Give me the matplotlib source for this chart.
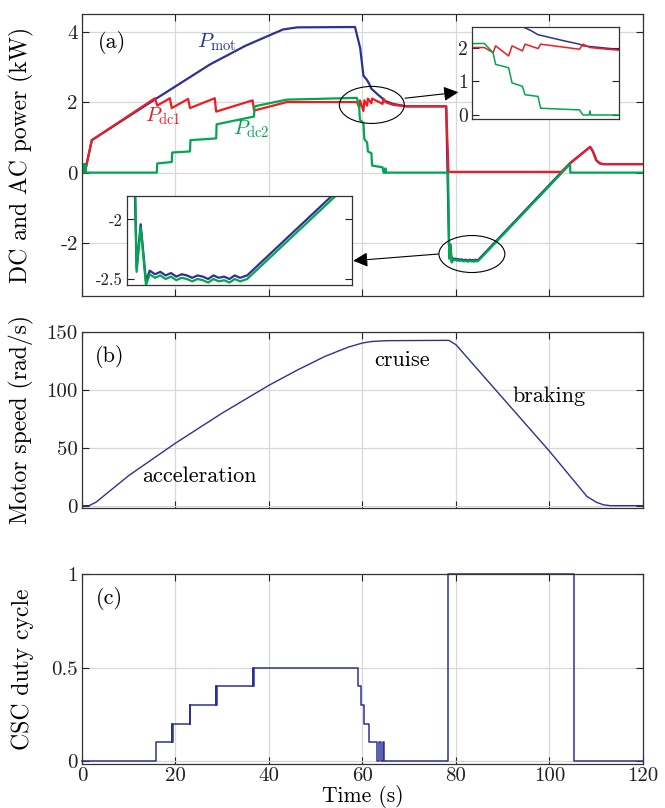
import matplotlib
matplotlib.use("Agg")
import matplotlib.pyplot as plt
from matplotlib.patches import Ellipse

plt.rcParams['font.family'] = 'serif'
plt.rcParams['font.serif'] = ['cmr10']
plt.rcParams['mathtext.fontset'] = 'cm'
plt.rcParams['axes.unicode_minus'] = False
plt.rcParams['axes.formatter.use_mathtext'] = False

BLUE = '#2e3192'
RED = '#ed1c24'
GREEN = '#00a651'

# ---- panel (a): powers in kW vs time in s ----
t_brk = [79.3, 79.6, 79.9, 80.2, 80.5, 80.8, 81.1, 81.4, 81.7, 82.0, 82.3, 82.6,
         82.9, 83.2, 83.5, 83.8, 84.1, 84.4, 84.8]
dc2_brk = [-2.46, -2.49, -2.47, -2.50, -2.48, -2.51, -2.49, -2.50, -2.52, -2.50,
           -2.51, -2.53, -2.50, -2.52, -2.51, -2.53, -2.50, -2.52, -2.50]
mot_brk = [-2.43, -2.46, -2.44, -2.47, -2.45, -2.48, -2.46, -2.47, -2.49, -2.47,
           -2.48, -2.50, -2.47, -2.49, -2.48, -2.50, -2.47, -2.49, -2.47]

t_mot = [0, 0.6, 2.1, 16.0, 27.4, 35.0, 40.2, 43.0, 46.0, 58.4, 59.5, 60.2, 61.0,
         61.5, 61.9, 63.4, 64.3, 64.5, 66.5, 69.4, 77.9, 78.56, 78.79, 79.09]
p_mot = [0, 0, 0.92, 2.11, 3.07, 3.60, 3.90, 4.06, 4.12, 4.13, 3.54, 2.75, 2.62,
         2.50, 2.38, 2.20, 2.10, 2.05, 1.95, 1.88, 1.88, -2.41, -2.04, -2.52]
t_mot_end = [104.4, 108.7, 109.3, 110.0, 110.8, 111.5, 120]
p_mot_end = [0.27, 0.73, 0.60, 0.35, 0.26, 0.24, 0.24]

t_dc1 = [0, 0.6, 2.1, 15.6, 16.1, 18.8, 19.2, 22.7, 23.1, 28.4, 28.7, 36.5, 36.8,
         43.8, 58.8, 59.3, 59.45, 60.2, 60.4, 61.0, 61.15, 61.9, 62.05, 64.3, 64.5,
         64.9, 65.9, 66.6, 69.4, 77.9, 78.4, 102.6, 104.4, 108.7, 109.3, 110.0,
         110.8, 111.5, 120]
p_dc1 = [0, 0, 0.92, 2.11, 1.90, 2.11, 1.83, 2.09, 1.83, 2.11, 1.73, 2.05, 1.76,
         2.00, 2.00, 1.85, 2.05, 1.75, 2.05, 1.90, 2.10, 1.97, 2.10, 1.95, 2.10,
         2.00, 1.95, 1.92, 1.88, 1.88, 0.02, 0.02, 0.26, 0.73, 0.60, 0.35, 0.26,
         0.24, 0.24]

t_dc2 = [0, 0.3, 0.35, 0.8, 0.85, 16.0, 16.1, 19.2, 19.3, 23.1, 23.2, 28.7, 28.8,
         36.8, 36.9, 43.8, 58.8, 59.3, 59.45, 60.2, 60.4, 61.0, 61.15, 61.9, 62.05,
         64.3, 64.5, 64.85, 64.9, 64.95, 78.3, 78.56, 78.79, 79.09]
p_dc2 = [0, 0, 0.24, 0.24, 0, 0, 0.26, 0.30, 0.57, 0.60, 0.92, 0.97, 1.37,
         1.59, 1.88, 2.07, 2.12, 1.85, 1.50, 1.40, 0.95, 0.85, 0.60, 0.55, 0.20,
         0.15, 0.0, 0.0, 0.12, 0.0, 0.0, -2.44, -2.07, -2.55]
t_dc2_end = [104.4, 104.45, 120]
p_dc2_end = [0.24, 0.0, 0.0]

# ---- panel (b): motor speed in rad/s ----
t_spd = [0, 1.5, 3, 10, 20, 30, 40, 46, 52, 57, 60, 62, 65, 78.5, 80, 90, 100,
         108, 110, 111.5, 113, 120]
w_spd = [0, 0, 3, 26, 54, 80, 104, 117, 129, 137, 140.5, 141.8, 142.5, 142.8,
         139, 93, 47, 8, 3, 0.8, 0, 0]

# ---- panel (c): CSC duty cycle (with switching chatter at the steps) ----
t_duty = [0, 15.9, 19.2, 19.3, 19.4, 19.5, 23.0, 23.1, 23.2, 23.3, 28.6, 28.7,
          28.8, 28.9, 36.5, 36.6, 36.7, 36.8, 59.1, 59.6, 60.4, 61.4, 63.2, 63.6,
          64.0, 64.4, 64.7, 78.2, 105.3, 120]
d_duty = [0, 0.1, 0.2, 0.1, 0.2, 0.2, 0.3, 0.2, 0.3, 0.3, 0.4, 0.3, 0.4, 0.4,
          0.5, 0.4, 0.5, 0.5, 0.4, 0.3, 0.2, 0.1, 0, 0.1, 0, 0.1, 0, 1, 0, 0]

mot_t = t_mot + t_brk + t_mot_end
mot_p = p_mot + mot_brk + p_mot_end
dc2_t = t_dc2 + t_brk + t_dc2_end
dc2_p = p_dc2 + dc2_brk + p_dc2_end


def style(ax, labelsize=15):
    ax.tick_params(direction='in', top=True, right=True, length=5, width=0.8,
                   labelsize=labelsize, colors='#222222', pad=3)
    for s in ax.spines.values():
        s.set_color('#333333')
        s.set_linewidth(0.9)


fig = plt.figure(figsize=(6.65, 8.08), dpi=100)

ax1 = fig.add_axes([0.1233, 0.6337, 0.8436, 0.349])
ax2 = fig.add_axes([0.1233, 0.3713, 0.8436, 0.2178])
ax3 = fig.add_axes([0.1233, 0.0545, 0.8436, 0.2351])

for ax in (ax1, ax2, ax3):
    ax.set_xlim(0, 120)
    ax.set_xticks([0, 20, 40, 60, 80, 100, 120])
    ax.grid(True, color='#d8d8d8', lw=0.9)
    ax.set_axisbelow(True)
    style(ax)

# (a)
ax1.plot(mot_t, mot_p, color=BLUE, lw=1.6)
ax1.plot(t_dc1, p_dc1, color=RED, lw=1.6)
ax1.plot(dc2_t, dc2_p, color=GREEN, lw=1.6)
ax1.set_ylim(-3.5, 4.5)
ax1.set_yticks([-2, 0, 2, 4])
ax1.tick_params(labelbottom=False)
ax1.set_ylabel('DC and AC power (kW)', fontsize=17)
ax1.text(6.4, 3.69, '(a)', fontsize=16, ha='center', va='center')
ax1.text(28.9, 3.69, r'$P_\mathrm{mot}$', color=BLUE, fontsize=15, ha='center', va='center')
ax1.text(17.4, 1.6, r'$P_\mathrm{dc1}$', color=RED, fontsize=15, ha='center', va='center')
ax1.text(36.2, 1.23, r'$P_\mathrm{dc2}$', color=GREEN, fontsize=15, ha='center', va='center')

ax1.add_patch(Ellipse((62.0, 1.92), 13.9, 1.05, fill=False, lw=0.8, color='black', zorder=5))
ax1.add_patch(Ellipse((83.4, -2.31), 14.1, 1.05, fill=False, lw=0.8, color='black', zorder=5))
arrow = dict(arrowstyle='-|>', color='black', lw=0.8, mutation_scale=22, shrinkA=0, shrinkB=0)
ax1.annotate('', xy=(80.5, 2.28), xytext=(69.1, 2.11), arrowprops=arrow, zorder=5)
ax1.annotate('', xy=(58.0, -2.5), xytext=(76.2, -2.31), arrowprops=arrow, zorder=5)

# insets
in1 = fig.add_axes([0.7102, 0.8527, 0.2211, 0.1135])
in1.plot(mot_t, mot_p, color=BLUE, lw=1.1)
in1.plot(t_dc1, p_dc1, color=RED, lw=1.1)
in1.plot(dc2_t, dc2_p, color=GREEN, lw=1.1)
in1.set_xlim(58.1, 66.6)
in1.set_ylim(-0.12, 2.6)
in1.set_yticks([0, 1, 2])
in1.set_xticks([])
style(in1, 14)

in2 = fig.add_axes([0.1905, 0.6469, 0.3383, 0.1109])
in2.plot(mot_t, mot_p, color=BLUE, lw=1.6)
in2.plot(dc2_t, dc2_p, color=GREEN, lw=1.6)
in2.set_xlim(78.0, 90.7)
in2.set_ylim(-2.553, -1.80)
in2.set_yticks([-2.5, -2])
in2.set_yticklabels(['-2.5', '-2'])
in2.set_xticks([])
style(in2, 12)

# (b)
ax2.plot(t_spd, w_spd, color=BLUE, lw=1.0)
ax2.set_ylim(-2, 150)
ax2.set_yticks([0, 50, 100, 150])
ax2.tick_params(labelbottom=False)
ax2.set_ylabel('Motor speed (rad/s)', fontsize=17)
ax2.text(5.9, 128.9, '(b)', fontsize=16, ha='center', va='center')
ax2.text(68.4, 125.6, 'cruise', fontsize=16, ha='center', va='center')
ax2.text(100.0, 94.7, 'braking', fontsize=16, ha='center', va='center')
ax2.text(25.2, 25.8, 'acceleration', fontsize=16, ha='center', va='center')

# (c)
ax3.step(t_duty, d_duty, where='post', color=BLUE, lw=1.1, clip_on=False)
ax3.set_ylim(-0.015, 1)
ax3.set_yticks([0, 0.5, 1])
ax3.set_yticklabels(['0', '0.5', '1'])
ax3.tick_params(axis='x', pad=2)
ax3.set_ylabel('CSC duty cycle', fontsize=17)
ax3.set_xlabel('Time (s)', fontsize=15.5, labelpad=0)
ax3.text(5.9, 0.87, '(c)', fontsize=16, ha='center', va='center')

for ax in (ax1, ax2, ax3):
    ax.yaxis.set_label_coords(-0.085, 0.5)

fig.savefig('out.png', dpi=100)
